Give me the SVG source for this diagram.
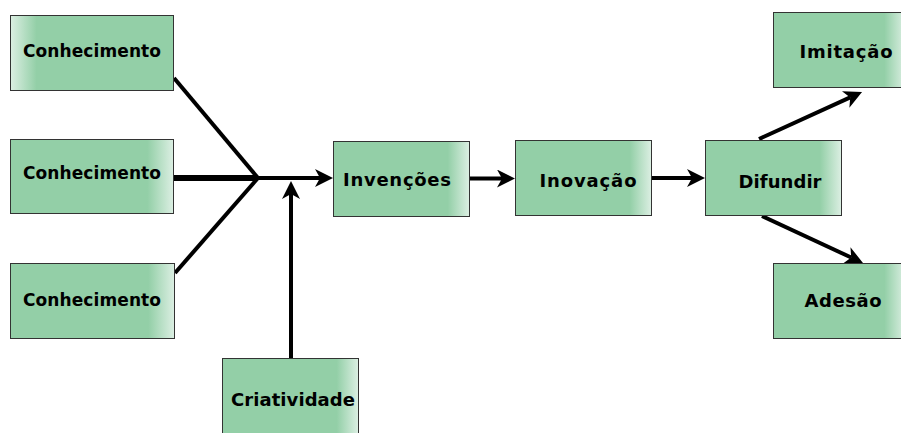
<svg xmlns="http://www.w3.org/2000/svg" width="901" height="433" viewBox="0 0 901 433">
<defs>
<linearGradient id="gR" x1="0" y1="0" x2="1" y2="0">
<stop offset="0" stop-color="#93cfa7"/>
<stop offset="0.84" stop-color="#93cfa7"/>
<stop offset="1" stop-color="#dcefe3"/>
</linearGradient>
<linearGradient id="gL" x1="1" y1="0" x2="0" y2="0">
<stop offset="0" stop-color="#93cfa7"/>
<stop offset="0.84" stop-color="#93cfa7"/>
<stop offset="1" stop-color="#dcefe3"/>
</linearGradient>
<marker id="ah" markerUnits="userSpaceOnUse" viewBox="0 0 18 18" markerWidth="18" markerHeight="18" refX="5" refY="9" orient="auto">
<path d="M0,0 L18,9 L0,18 L5,9 z" fill="#000"/>
</marker>
</defs>
<style>
.box{fill:url(#gR);stroke:#333;stroke-width:1}
.boxl{fill:url(#gL);stroke:#333;stroke-width:1}
.lbl{font-family:"DejaVu Sans",Verdana,sans-serif;font-weight:bold;font-size:18px;fill:#000;text-anchor:middle}
.sm{font-size:17px}
.ln{stroke:#000;fill:none;stroke-width:4}
.arr{stroke:#000;fill:none;stroke-width:4;marker-end:url(#ah)}
</style>
<g id="connectors">
<line class="ln" x1="174" y1="78" x2="258" y2="178"/>
<line class="ln" x1="174" y1="178" x2="258" y2="178" style="stroke-width:6"/>
<line class="ln" x1="175" y1="273" x2="258" y2="178"/>
<line class="arr" x1="256" y1="178" x2="320" y2="178"/>
<line class="arr" x1="291" y1="358" x2="291" y2="194"/>
<line class="arr" x1="469" y1="178.5" x2="502" y2="178.5"/>
<line class="arr" x1="652" y1="178" x2="692" y2="178"/>
<line class="arr" x1="759" y1="139" x2="850.2" y2="97.4"/>
<line class="arr" x1="762" y1="216" x2="851.2" y2="257.5"/>
</g>
<g id="conhecimento1">
<rect class="boxl" x="10.5" y="15.5" width="163" height="75"/>
<text class="lbl sm" x="92" y="57" textLength="138" lengthAdjust="spacing">Conhecimento</text>
</g>
<g id="conhecimento2">
<rect class="box" x="10.5" y="139.5" width="163" height="74"/>
<text class="lbl sm" x="92" y="179" textLength="138" lengthAdjust="spacing">Conhecimento</text>
</g>
<g id="conhecimento3">
<rect class="box" x="10.5" y="263.5" width="164" height="75"/>
<text class="lbl sm" x="92" y="306" textLength="138" lengthAdjust="spacing">Conhecimento</text>
</g>
<g id="criatividade">
<rect class="box" x="222.5" y="358.5" width="136" height="76"/>
<text class="lbl" x="293" y="406" textLength="124" lengthAdjust="spacing">Criatividade</text>
</g>
<g id="invencoes">
<rect class="box" x="333.5" y="141.5" width="136" height="75"/>
<text class="lbl" x="397" y="186" textLength="108" lengthAdjust="spacing">Invenções</text>
</g>
<g id="inovacao">
<rect class="box" x="515.5" y="140.5" width="136" height="75"/>
<text class="lbl" x="588" y="187" textLength="97" lengthAdjust="spacing">Inovação</text>
</g>
<g id="difundir">
<rect class="box" x="705.5" y="140.5" width="136" height="75"/>
<text class="lbl" x="780" y="188" textLength="83" lengthAdjust="spacing">Difundir</text>
</g>
<g id="imitacao">
<rect class="box" x="773.5" y="12.5" width="132" height="75"/>
<text class="lbl" x="846" y="58" textLength="93" lengthAdjust="spacing">Imitação</text>
</g>
<g id="adesao">
<rect class="box" x="773.5" y="263.5" width="132" height="75"/>
<text class="lbl" x="843" y="307" textLength="77" lengthAdjust="spacing">Adesão</text>
</g>
</svg>
